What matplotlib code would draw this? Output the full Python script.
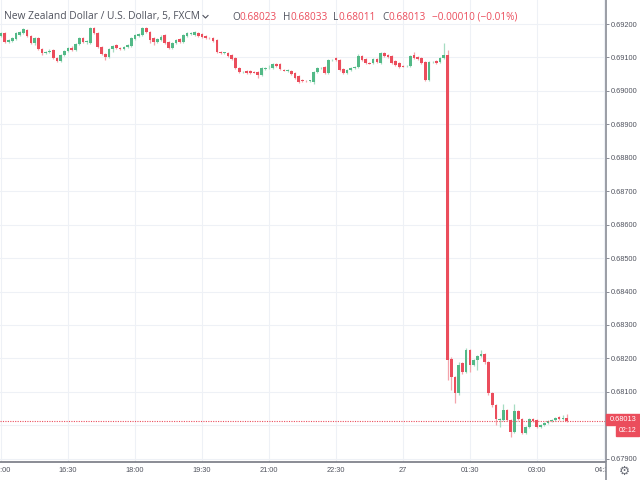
import matplotlib.pyplot as plt
from matplotlib.lines import Line2D
from matplotlib.patches import Rectangle
import numpy as np

# ---- data (NZD/USD, 5 min bars) ----
title = "New Zealand Dollar / U.S. Dollar, 5, FXCM"
time_labels = ["15:00", "16:30", "18:00", "19:30", "21:00", "22:30", "27", "01:30", "03:00", "04:30"]
time_label_bars = [0, 18, 36, 54, 72, 90, 108, 126, 144, 162]
price_ticks = [0.679, 0.680, 0.681, 0.682, 0.683, 0.684, 0.685, 0.686,
               0.687, 0.688, 0.689, 0.690, 0.691, 0.692]
hidden_tick = 0.680  # sits under the last-price label
last_price = 0.68013
countdown = "02:12"
ohlc_header = [("O", "0.68023"), ("H", "0.68033"), ("L", "0.68011"), ("C", "0.68013")]
change_text = "\u22120.00010 (\u22120.01%)"

opens = [
    0.69164, 0.69173, 0.69146, 0.69149, 0.69155, 0.69167, 0.69173, 0.69182, 0.69164, 0.69143,
    0.69158, 0.69125, 0.69113, 0.69116, 0.69122, 0.69098, 0.69089, 0.69107, 0.69119, 0.69128,
    0.69122, 0.69140, 0.69158, 0.69146, 0.69143, 0.69188, 0.69173, 0.69131, 0.69110, 0.69101,
    0.69125, 0.69137, 0.69128, 0.69125, 0.69131, 0.69134, 0.69155, 0.69164, 0.69167, 0.69188,
    0.69176, 0.69158, 0.69146, 0.69152, 0.69167, 0.69146, 0.69128, 0.69143, 0.69155, 0.69146,
    0.69164, 0.69170, 0.69167, 0.69173, 0.69170, 0.69164, 0.69158, 0.69158, 0.69152, 0.69116,
    0.69113, 0.69113, 0.69107, 0.69098, 0.69068, 0.69056, 0.69059, 0.69059, 0.69056, 0.69056,
    0.69047, 0.69065, 0.69068, 0.69068, 0.69080, 0.69080, 0.69062, 0.69059, 0.69059, 0.69053,
    0.69044, 0.69033, 0.69030, 0.69030, 0.69027, 0.69056, 0.69068, 0.69071, 0.69053, 0.69092,
    0.69098, 0.69092, 0.69065, 0.69053, 0.69062, 0.69068, 0.69071, 0.69104, 0.69095, 0.69083,
    0.69083, 0.69095, 0.69083, 0.69113, 0.69107, 0.69104, 0.69089, 0.69083, 0.69074, 0.69074,
    0.69074, 0.69107, 0.69101, 0.69098, 0.69086, 0.69033, 0.69086, 0.69089, 0.69086, 0.69098,
    0.69107, 0.68198, 0.68145, 0.68097, 0.68186, 0.68159, 0.68225, 0.68180, 0.68195, 0.68207,
    0.68213, 0.68189, 0.68097, 0.68061, 0.68016, 0.68016, 0.68046, 0.68016, 0.67980, 0.68043,
    0.68019, 0.67977, 0.67995, 0.68019, 0.68016, 0.67995, 0.68001, 0.68007, 0.68013, 0.68016,
    0.68025, 0.68019, 0.68023,
]
highs = [
    0.69176, 0.69176, 0.69155, 0.69161, 0.69176, 0.69179, 0.69188, 0.69185, 0.69167, 0.69161,
    0.69161, 0.69128, 0.69119, 0.69125, 0.69125, 0.69101, 0.69110, 0.69122, 0.69131, 0.69134,
    0.69143, 0.69161, 0.69161, 0.69152, 0.69191, 0.69191, 0.69176, 0.69134, 0.69113, 0.69128,
    0.69137, 0.69140, 0.69131, 0.69134, 0.69140, 0.69161, 0.69170, 0.69173, 0.69191, 0.69191,
    0.69179, 0.69161, 0.69158, 0.69167, 0.69170, 0.69149, 0.69146, 0.69155, 0.69158, 0.69170,
    0.69176, 0.69176, 0.69179, 0.69176, 0.69173, 0.69167, 0.69161, 0.69161, 0.69155, 0.69119,
    0.69116, 0.69116, 0.69110, 0.69101, 0.69071, 0.69059, 0.69062, 0.69062, 0.69059, 0.69059,
    0.69071, 0.69071, 0.69077, 0.69083, 0.69083, 0.69083, 0.69065, 0.69065, 0.69062, 0.69056,
    0.69047, 0.69035, 0.69033, 0.69033, 0.69059, 0.69071, 0.69071, 0.69074, 0.69095, 0.69095,
    0.69101, 0.69095, 0.69068, 0.69065, 0.69071, 0.69074, 0.69110, 0.69107, 0.69098, 0.69086,
    0.69098, 0.69098, 0.69116, 0.69116, 0.69110, 0.69107, 0.69092, 0.69086, 0.69077, 0.69077,
    0.69107, 0.69116, 0.69104, 0.69101, 0.69089, 0.69089, 0.69089, 0.69092, 0.69101, 0.69143,
    0.69122, 0.68204, 0.68147, 0.68189, 0.68189, 0.68231, 0.68228, 0.68198, 0.68210, 0.68225,
    0.68216, 0.68192, 0.68100, 0.68064, 0.68022, 0.68064, 0.68049, 0.68019, 0.68064, 0.68046,
    0.68022, 0.67998, 0.68022, 0.68022, 0.68019, 0.68004, 0.68010, 0.68016, 0.68019, 0.68025,
    0.68028, 0.68031, 0.68033,
]
lows = [
    0.69161, 0.69143, 0.69143, 0.69146, 0.69152, 0.69164, 0.69170, 0.69161, 0.69140, 0.69137,
    0.69122, 0.69107, 0.69110, 0.69113, 0.69095, 0.69086, 0.69086, 0.69104, 0.69116, 0.69119,
    0.69119, 0.69137, 0.69143, 0.69140, 0.69140, 0.69170, 0.69128, 0.69107, 0.69092, 0.69098,
    0.69116, 0.69125, 0.69122, 0.69122, 0.69128, 0.69131, 0.69152, 0.69161, 0.69164, 0.69173,
    0.69143, 0.69137, 0.69143, 0.69149, 0.69140, 0.69125, 0.69125, 0.69140, 0.69143, 0.69143,
    0.69161, 0.69167, 0.69164, 0.69161, 0.69158, 0.69155, 0.69155, 0.69146, 0.69113, 0.69110,
    0.69110, 0.69101, 0.69092, 0.69065, 0.69053, 0.69053, 0.69050, 0.69050, 0.69053, 0.69038,
    0.69044, 0.69062, 0.69065, 0.69065, 0.69071, 0.69062, 0.69059, 0.69056, 0.69047, 0.69035,
    0.69024, 0.69027, 0.69027, 0.69027, 0.69021, 0.69053, 0.69065, 0.69050, 0.69050, 0.69089,
    0.69089, 0.69059, 0.69050, 0.69050, 0.69059, 0.69065, 0.69068, 0.69089, 0.69080, 0.69080,
    0.69080, 0.69083, 0.69080, 0.69101, 0.69098, 0.69080, 0.69074, 0.69068, 0.69071, 0.69071,
    0.69071, 0.69095, 0.69092, 0.69080, 0.69030, 0.69030, 0.69083, 0.69080, 0.69083, 0.69095,
    0.68136, 0.68106, 0.68067, 0.68091, 0.68153, 0.68156, 0.68159, 0.68177, 0.68165, 0.68204,
    0.68183, 0.68091, 0.68055, 0.68001, 0.67995, 0.68013, 0.68013, 0.67965, 0.67977, 0.68016,
    0.67974, 0.67974, 0.67992, 0.68010, 0.67992, 0.67992, 0.67998, 0.68004, 0.68010, 0.68013,
    0.68016, 0.68016, 0.68011,
]
closes = [
    0.69173, 0.69146, 0.69152, 0.69158, 0.69173, 0.69176, 0.69185, 0.69164, 0.69143, 0.69158,
    0.69125, 0.69113, 0.69116, 0.69119, 0.69098, 0.69089, 0.69107, 0.69119, 0.69128, 0.69122,
    0.69140, 0.69158, 0.69146, 0.69149, 0.69188, 0.69173, 0.69131, 0.69110, 0.69101, 0.69125,
    0.69134, 0.69128, 0.69125, 0.69131, 0.69137, 0.69158, 0.69167, 0.69170, 0.69188, 0.69176,
    0.69152, 0.69146, 0.69155, 0.69161, 0.69143, 0.69128, 0.69143, 0.69152, 0.69146, 0.69167,
    0.69173, 0.69171, 0.69176, 0.69164, 0.69161, 0.69158, 0.69157, 0.69149, 0.69116, 0.69114,
    0.69114, 0.69104, 0.69095, 0.69068, 0.69056, 0.69057, 0.69053, 0.69053, 0.69055, 0.69047,
    0.69068, 0.69068, 0.69069, 0.69080, 0.69074, 0.69065, 0.69061, 0.69062, 0.69050, 0.69038,
    0.69027, 0.69030, 0.69029, 0.69031, 0.69056, 0.69068, 0.69069, 0.69053, 0.69092, 0.69093,
    0.69092, 0.69062, 0.69053, 0.69062, 0.69068, 0.69071, 0.69104, 0.69092, 0.69083, 0.69082,
    0.69095, 0.69086, 0.69113, 0.69104, 0.69101, 0.69083, 0.69077, 0.69071, 0.69073, 0.69075,
    0.69104, 0.69098, 0.69095, 0.69083, 0.69033, 0.69086, 0.69087, 0.69083, 0.69098, 0.69107,
    0.68195, 0.68145, 0.68097, 0.68180, 0.68159, 0.68225, 0.68180, 0.68195, 0.68207, 0.68213,
    0.68189, 0.68097, 0.68061, 0.68019, 0.68019, 0.68046, 0.68016, 0.67980, 0.68043, 0.68019,
    0.67977, 0.67995, 0.68019, 0.68013, 0.67995, 0.68001, 0.68007, 0.68013, 0.68016, 0.68022,
    0.68019, 0.68023, 0.68013,
]

UP = "#53b987"
DOWN = "#eb4d5c"
UP_WICK = "#a6dcc1"
DOWN_WICK = "#f4a3ab"
TEXT = "#50535e"
GRID = "#eef1f6"
AXIS = "#8a8d96"

W, H = 640, 480
fig = plt.figure(figsize=(6.4, 4.8), dpi=100)
ax = fig.add_axes([0, 18 / H, 606 / W, 462 / H])

o = np.array(opens)
hi = np.array(highs)
lo = np.array(lows)
c = np.array(closes)
x = np.arange(len(c))
up = c >= o

ax.vlines(x, lo, hi, colors=np.where(up, UP_WICK, DOWN_WICK), lw=0.9, zorder=2)
ax.bar(x, np.maximum(np.abs(c - o), 0.00002), bottom=np.minimum(o, c), width=0.72,
       color=np.where(up, UP, DOWN), linewidth=0, zorder=3)

# last price line
ax.axhline(last_price, color=DOWN, lw=0.8, ls=(0, (1, 1.2)), zorder=4)

ax.set_xlim(-0.3, 162.6)
ax.set_ylim(0.67890, 0.69272)

ax.set_xticks(time_label_bars)
ax.set_xticklabels(time_labels)
ax.set_yticks(price_ticks)
ax.set_yticklabels(["" if abs(p - hidden_tick) < 1e-9 else f"{p:.5f}" for p in price_ticks])
ax.yaxis.tick_right()
ax.grid(True, color=GRID, lw=0.8, zorder=0)
ax.set_axisbelow(True)

for side in ["top", "left", "right"]:
    ax.spines[side].set_visible(False)
ax.spines["bottom"].set_color("#6b6e78")
ax.spines["bottom"].set_linewidth(1.1)

ax.tick_params(axis="y", length=2.2, width=0.7, color=AXIS, labelsize=5.3,
               labelcolor=TEXT, pad=1.5)
ax.tick_params(axis="x", length=0, labelsize=5.3, labelcolor=TEXT, pad=3.5)
for lab in ax.get_xticklabels() + ax.get_yticklabels():
    lab.set_family("Liberation Sans")

# bottom-right corner panel hides the cut tick label and holds the gear
corner = fig.add_axes([606 / W, 0, 34 / W, 18 / H], zorder=5)
corner.set_facecolor("white")
corner.set_xticks([])
corner.set_yticks([])
for s in corner.spines.values():
    s.set_visible(False)
corner.text(0.55, 0.5, "\u2699", ha="center", va="center", fontsize=9, color="#6b6e78",
            family="DejaVu Sans")

# vertical price-scale border
fig.add_artist(Line2D([606 / W, 606 / W], [0, 1], color=AXIS, lw=1.2, zorder=6))

# price / countdown labels on the scale
fig.add_artist(Rectangle((606 / W, 1 - 425 / H), 34 / W, 11 / H, color=DOWN, zorder=7))
fig.text(623 / W, 1 - 419.5 / H, f"{last_price:.5f}", color="white", fontsize=5.3,
         ha="center", va="center", family="Liberation Sans", zorder=8)
fig.add_artist(Rectangle((616 / W, 1 - 435.5 / H), 23 / W, 9.5 / H, color=DOWN, zorder=7))
fig.text(627.5 / W, 1 - 430.8 / H, countdown, color="white", fontsize=5.0,
         ha="center", va="center", family="Liberation Sans", zorder=8)

# header line
r = fig.canvas.get_renderer()
t = fig.text(4 / W, 1 - 17 / H, title, color=TEXT, fontsize=7.4, ha="left", va="center",
             family="Open Sans")
x_end = t.get_window_extent(r).x1
fig.add_artist(Line2D([(x_end + 3) / W, (x_end + 5.5) / W, (x_end + 8) / W],
                      [1 - 15.5 / H, 1 - 18 / H, 1 - 15.5 / H], color=TEXT, lw=0.8))

xpos = 232
for letter, value in ohlc_header:
    t = fig.text(xpos / W, 1 - 17 / H, letter, color=TEXT, fontsize=7.2, ha="left",
                 va="center", family="Open Sans")
    xpos = t.get_window_extent(r).x1
    t = fig.text(xpos / W, 1 - 17 / H, value, color=DOWN, fontsize=7.2, ha="left",
                 va="center", family="Open Sans")
    xpos = t.get_window_extent(r).x1 + 6
fig.text(xpos / W, 1 - 17 / H, change_text, color=DOWN, fontsize=7.2, ha="left",
         va="center", family="Open Sans")

fig.savefig("out.png", dpi=100)
